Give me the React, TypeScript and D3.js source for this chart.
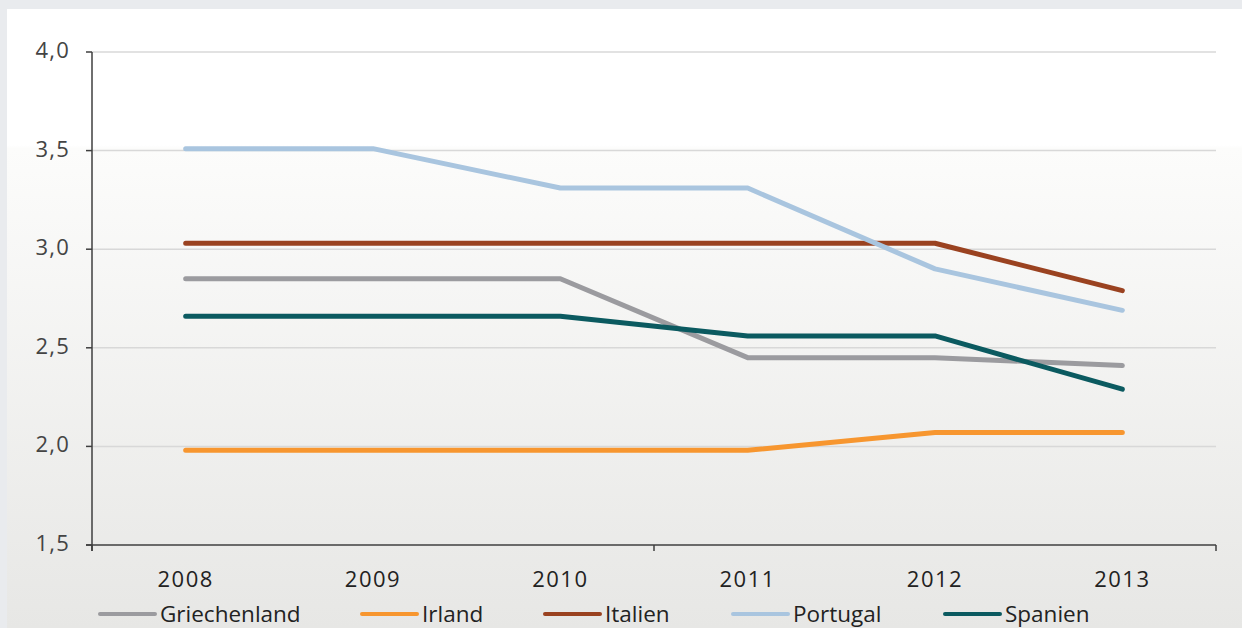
import React from "react";
import * as d3 from "d3";

const years = ["2008", "2009", "2010", "2011", "2012", "2013"];
const countries = ["Griechenland", "Irland", "Italien", "Portugal", "Spanien"];
const griechenland = [2.85, 2.85, 2.85, 2.45, 2.45, 2.41];
const irland = [1.98, 1.98, 1.98, 1.98, 2.07, 2.07];
const italien = [3.03, 3.03, 3.03, 3.03, 3.03, 2.79];
const portugal = [3.51, 3.51, 3.31, 3.31, 2.9, 2.69];
const spanien = [2.66, 2.66, 2.66, 2.56, 2.56, 2.29];
const yTicks = [1.5, 2.0, 2.5, 3.0, 3.5, 4.0];
const colors = ["#9b9b9f", "#f7962f", "#9a4220", "#a9c5df", "#0b5a60"];

const seriesValues = [griechenland, irland, italien, portugal, spanien];

const W = 1242;
const H = 628;
const left = 92;
const right = 1216;
const top = 52;
const bottom = 545;
const FONT = "'Open Sans', 'Noto Sans', sans-serif";

export default function App() {
  const x = d3.scaleBand<string>().domain(years).range([left, right]);
  const y = d3.scaleLinear().domain([1.5, 4.0]).range([bottom, top]);
  const line = d3
    .line<number>()
    .x((_, i) => (x(years[i]) as number) + x.bandwidth() / 2)
    .y((v) => y(v));

  const fmt = (v: number) => v.toFixed(1).replace(".", ",");
  const boundaries = [0, 3, 6].map((i) => left + i * x.bandwidth());

  const legendX = [100, 362, 545, 733, 945];

  return (
    <svg
      width={W}
      height={H}
      style={{ position: "absolute", left: 0, top: 0, display: "block" }}
      fontFamily={FONT}
    >
      <defs>
        <linearGradient id="panelFill" x1="0" y1="0" x2="0" y2="1">
          <stop offset="0" stopColor="#ffffff" />
          <stop offset="0.22" stopColor="#ffffff" />
          <stop offset="0.225" stopColor="#fcfcfb" />
          <stop offset="1" stopColor="#e7e7e5" />
        </linearGradient>
      </defs>
      <rect x={0} y={0} width={W} height={H} fill="#e9ebee" />
      <rect x={7} y={9} width={W - 7} height={H - 9} fill="url(#panelFill)" />

      {/* grid lines */}
      {yTicks.slice(1).map((t) => (
        <line
          key={t}
          x1={left}
          x2={right}
          y1={y(t)}
          y2={y(t)}
          stroke="#d8d8d8"
          strokeWidth={1.5}
        />
      ))}

      {/* y axis */}
      <line x1={left} x2={left} y1={top} y2={bottom + 6} stroke="#3f3f3f" strokeWidth={1.5} />
      {yTicks.map((t) => (
        <g key={t}>
          <line x1={left - 6} x2={left} y1={y(t)} y2={y(t)} stroke="#3f3f3f" strokeWidth={1.5} />
          <text
            x={70}
            y={y(t) + 6}
            textAnchor="end"
            fontSize={22}
            letterSpacing={1.2}
            fill="#444"
          >
            {fmt(t)}
          </text>
        </g>
      ))}

      {/* x axis */}
      <line x1={left - 6} x2={right} y1={bottom} y2={bottom} stroke="#3f3f3f" strokeWidth={1.5} />
      {boundaries.map((b) => (
        <line key={b} x1={b} x2={b} y1={bottom} y2={bottom + 6} stroke="#3f3f3f" strokeWidth={1.5} />
      ))}
      {years.map((yr) => (
        <text
          key={yr}
          x={(x(yr) as number) + x.bandwidth() / 2}
          y={587}
          textAnchor="middle"
          fontSize={22}
          letterSpacing={1.5}
          fill="#222"
        >
          {yr}
        </text>
      ))}

      {/* series lines */}
      {seriesValues.map((vals, i) => (
        <path
          key={countries[i]}
          d={line(vals) as string}
          fill="none"
          stroke={colors[i]}
          strokeWidth={5}
          strokeLinecap="round"
          strokeLinejoin="round"
        />
      ))}

      {/* legend */}
      {countries.map((c, i) => (
        <g key={c}>
          <line
            x1={legendX[i]}
            x2={legendX[i] + 55}
            y1={614}
            y2={614}
            stroke={colors[i]}
            strokeWidth={4}
            strokeLinecap="round"
          />
          <text x={legendX[i] + 60} y={622} fontSize={22.5} fill="#222">
            {c}
          </text>
        </g>
      ))}
    </svg>
  );
}
